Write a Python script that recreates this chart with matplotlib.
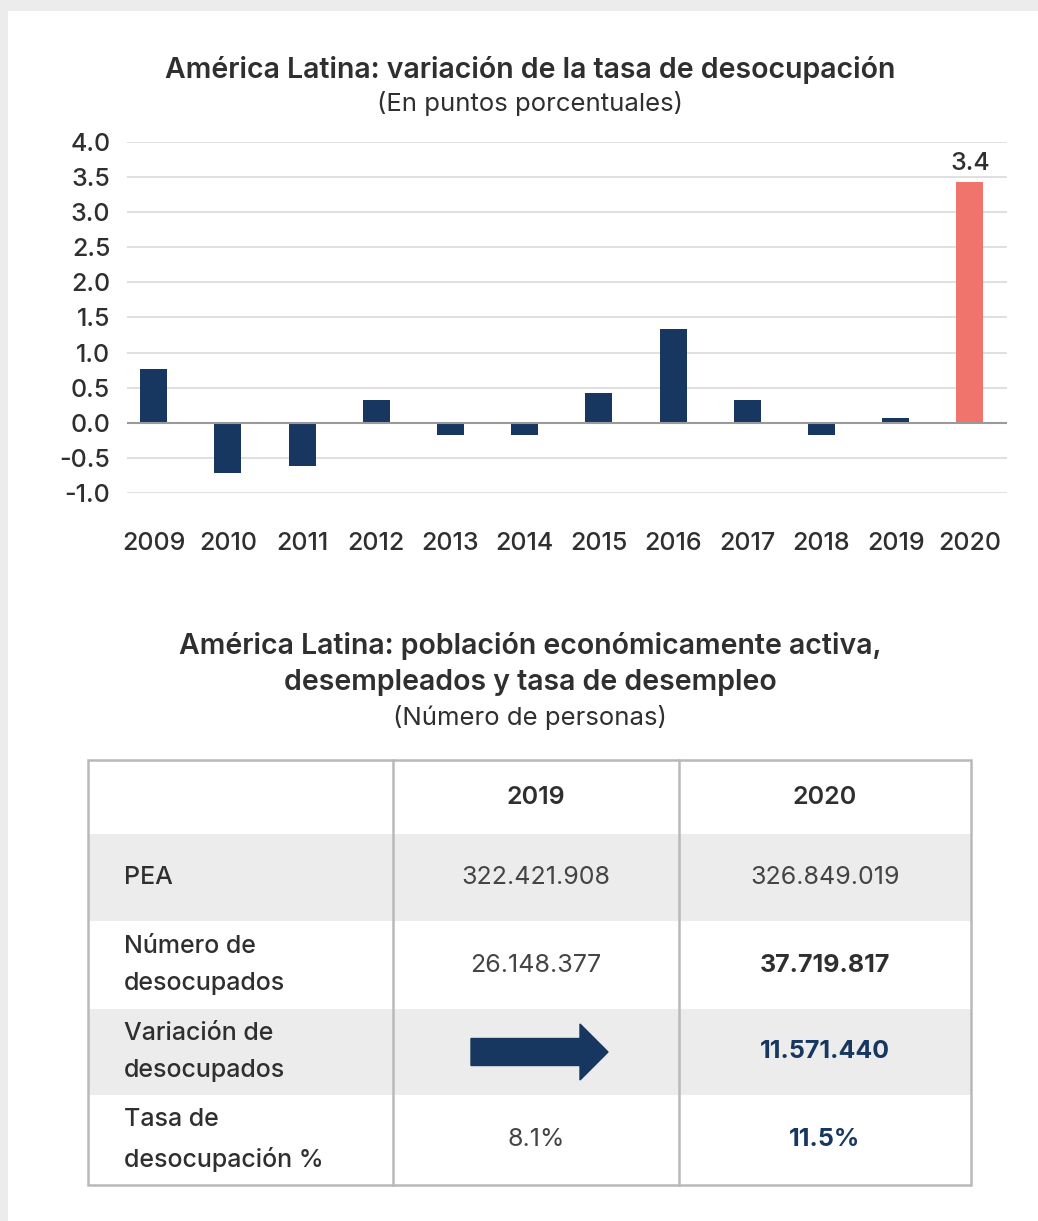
import numpy as np
import matplotlib
matplotlib.use('Agg')
import matplotlib.pyplot as plt
from matplotlib.patches import Rectangle, FancyArrow

plt.rcParams['font.family'] = ['Inter', 'DejaVu Sans']

# ---------------------------------------------------------------
# data
years = ['2009', '2010', '2011', '2012', '2013', '2014',
         '2015', '2016', '2017', '2018', '2019', '2020']
variacion = [0.77, -0.72, -0.62, 0.32, -0.18, -0.18,
             0.42, 1.33, 0.33, -0.18, 0.07, 3.43]
yticks = [-1.0, -0.5, 0.0, 0.5, 1.0, 1.5, 2.0, 2.5, 3.0, 3.5, 4.0]

tab_cols = ['2019', '2020']
tab_rows = ['PEA', 'Número de\ndesocupados', 'Variación de\ndesocupados',
            'Tasa de\ndesocupación %']
tab_2019 = ['322.421.908', '26.148.377', None, '8.1%']
tab_2020 = ['326.849.019', '37.719.817', '11.571.440', '11.5%']

# ---------------------------------------------------------------
navy = '#173660'
coral = '#f0746c'
txt = '#2f2f2f'
grid = '#dadada'
band = '#ececec'
edge = '#b9b9b9'
fs_t = 20.5   # titles
fs_s = 18.5   # subtitles
fs_k = 18     # ticks
fs_c = 18     # table cells

W, H = 1038, 1221
fig = plt.figure(figsize=(W / 100, H / 100), dpi=100, facecolor='#ececec')

# background panel + table, pixel coords
ax0 = fig.add_axes([0, 0, 1, 1])
ax0.set_xlim(0, W)
ax0.set_ylim(H, 0)
ax0.axis('off')
ax0.add_patch(Rectangle((8, 11), W, H, facecolor='white', edgecolor='none'))

ax0.text(530, 70, 'América Latina: variación de la tasa de desocupación',
         ha='center', va='center', fontsize=fs_t, fontweight='semibold', color=txt)
ax0.text(530, 103, '(En puntos porcentuales)', ha='center', va='center',
         fontsize=fs_s, color=txt)

# ---------------------------------------------------------------
# bar chart
ax = fig.add_axes([127 / W, 1 - 493 / H, (1007 - 127) / W, (493 - 142) / H])
ax.set_facecolor('none')
x = np.arange(len(years))
cols = [navy] * (len(years) - 1) + [coral]
ax.bar(x, variacion, width=0.365, color=cols, zorder=3)
ax.set_xlim(-0.36, 11.5)
ax.set_ylim(-1.0, 4.0)
ax.set_yticks(yticks)
ax.set_yticklabels(['%.1f' % v for v in yticks])
ax.set_xticks(x)
ax.set_xticklabels(years)
for v in yticks:
    ax.axhline(v, color='#9a9a9a' if v == 0 else grid, lw=1.5 if v == 0 else 1.2,
               zorder=4 if v == 0 else 1)
for s in ax.spines.values():
    s.set_visible(False)
ax.tick_params(axis='both', length=0, labelsize=fs_k, colors=txt)
ax.tick_params(axis='y', pad=12)
ax.tick_params(axis='x', pad=28)
for lab in ax.get_xticklabels() + ax.get_yticklabels():
    lab.set_fontweight('medium')
ax.annotate('%.1f' % 3.4, (x[-1], variacion[-1]), xytext=(0, 5),
            textcoords='offset points', ha='center', va='bottom',
            fontsize=fs_k, fontweight='medium', color=txt)

# ---------------------------------------------------------------
# table
ax0.text(530, 646, 'América Latina: población económicamente activa,',
         ha='center', va='center', fontsize=fs_t, fontweight='semibold', color=txt)
ax0.text(530, 682, 'desempleados y tasa de desempleo',
         ha='center', va='center', fontsize=fs_t, fontweight='semibold', color=txt)
ax0.text(530, 717, '(Número de personas)', ha='center', va='center',
         fontsize=fs_s, color=txt)

xl, xc1, xc2, xr = 88, 393, 679, 971
row_edges = [760, 834, 921, 1009, 1095, 1185]
for i in range(len(tab_rows)):
    if i % 2 == 0:
        ax0.add_patch(Rectangle((xl, row_edges[i + 1]), xr - xl,
                                row_edges[i + 2] - row_edges[i + 1],
                                facecolor=band, edgecolor='none'))
ax0.add_patch(Rectangle((xl, row_edges[0]), xr - xl, row_edges[-1] - row_edges[0],
                        facecolor='none', edgecolor=edge, lw=1.8))
for xv in (xc1, xc2):
    ax0.plot([xv, xv], [row_edges[0], row_edges[-1]], color=edge, lw=1.8)

cx1 = (xc1 + xc2) / 2
cx2 = (xc2 + xr) / 2
hy = (row_edges[0] + row_edges[1]) / 2
ax0.text(cx1, hy, tab_cols[0], ha='center', va='center', fontsize=fs_c,
         fontweight='semibold', color=txt)
ax0.text(cx2, hy, tab_cols[1], ha='center', va='center', fontsize=fs_c,
         fontweight='semibold', color=txt)

for i, lab in enumerate(tab_rows):
    cy = (row_edges[i + 1] + row_edges[i + 2]) / 2
    ax0.text(124, cy, lab, ha='left', va='center', fontsize=fs_c,
             fontweight='medium', color=txt, linespacing=1.75)
    if tab_2019[i] is None:
        ax0.add_patch(FancyArrow(471, cy, 109, 0, width=27, head_width=56,
                                 head_length=28, length_includes_head=False,
                                 color=navy))
    else:
        ax0.text(cx1, cy, tab_2019[i], ha='center', va='center', fontsize=fs_c,
                 color='#444444')
    if i == 0:
        ax0.text(cx2, cy, tab_2020[i], ha='center', va='center', fontsize=fs_c,
                 color='#444444')
    elif i == 1:
        ax0.text(cx2, cy, tab_2020[i], ha='center', va='center', fontsize=fs_c,
                 fontweight='bold', color=txt)
    else:
        ax0.text(cx2, cy, tab_2020[i], ha='center', va='center', fontsize=fs_c,
                 fontweight='bold', color=navy)

fig.savefig('out.png', dpi=100, facecolor=fig.get_facecolor())
